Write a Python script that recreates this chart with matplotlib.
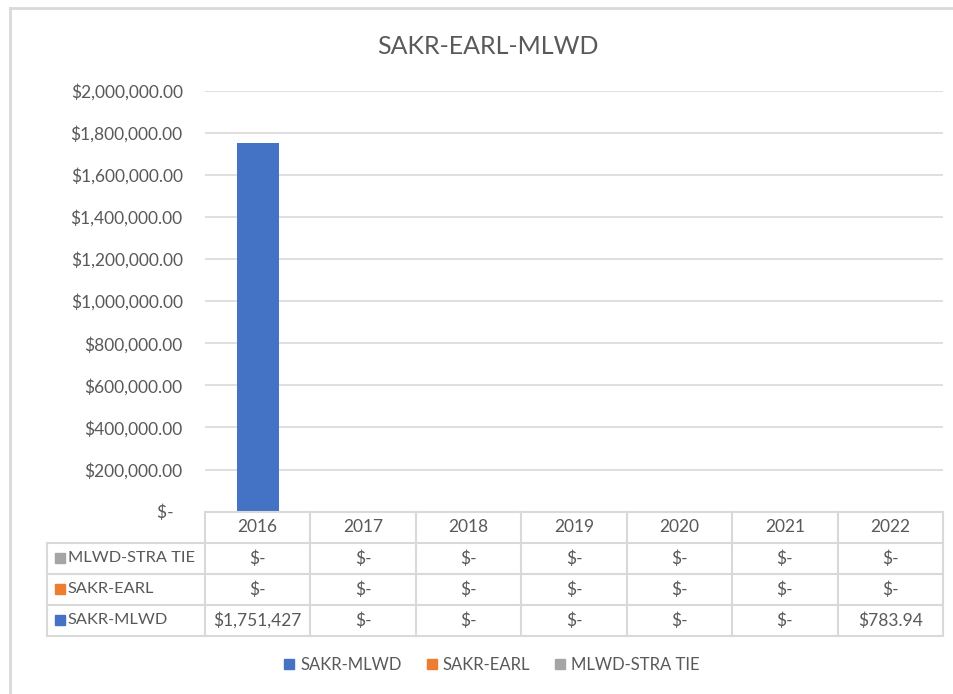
import matplotlib.pyplot as plt
import matplotlib.lines as mlines
from matplotlib.ticker import FuncFormatter

plt.rcParams['font.family'] = ['Lato', 'DejaVu Sans']

# data
years = ['2016', '2017', '2018', '2019', '2020', '2021', '2022']
series_names = ['SAKR-MLWD', 'SAKR-EARL', 'MLWD-STRA TIE']
sakr_mlwd = [1751427, 0, 0, 0, 0, 0, 783.94]
sakr_earl = [0, 0, 0, 0, 0, 0, 0]
mlwd_stra_tie = [0, 0, 0, 0, 0, 0, 0]
colors = ['#4472C4', '#ED7D31', '#A5A5A5']
yticks = [0, 200000, 400000, 600000, 800000, 1000000, 1200000,
          1400000, 1600000, 1800000, 2000000]

txt = '#595959'
grid = '#D9D9D9'
W, H = 954, 694

def money_tick(v, pos=None):
    if v == 0:
        return '$-  '
    return '${:,.2f}'.format(v)

def money_cell(v):
    if v == 0:
        return '$-'
    if v >= 100000:
        return '${:,.0f}'.format(v)
    return '${:,.2f}'.format(v)

fig = plt.figure(figsize=(W / 100, H / 100), dpi=100)

# outer chart border (top and left only visible)
fig.add_artist(mlines.Line2D([10 / W, 1], [1 - 8 / H, 1 - 8 / H], color=grid, lw=2))
fig.add_artist(mlines.Line2D([10 / W, 10 / W], [0, 1 - 8 / H], color=grid, lw=2))

x0, x1 = 205 / W, 943 / W
ax = fig.add_axes([x0, 1 - 511.6 / H, x1 - x0, (511.6 - 90.6) / H])
xs = list(range(len(years)))
data = [sakr_mlwd, sakr_earl, mlwd_stra_tie]
bottom = [0] * len(years)
for name, vals, c in zip(series_names, data, colors):
    ax.bar(xs, vals, width=0.4, bottom=bottom, color=c, label=name, zorder=3)
    bottom = [b + v for b, v in zip(bottom, vals)]

ax.set_xlim(-0.5, len(years) - 0.5)
ax.set_ylim(0, 2000000)
ax.set_yticks(yticks)
ax.yaxis.set_major_formatter(FuncFormatter(money_tick))
ax.tick_params(axis='y', length=0, pad=16, labelsize=12.5, labelcolor=txt)
ax.set_xticks([])
ax.grid(axis='y', color=grid, lw=1.2, zorder=0)
for s in ax.spines.values():
    s.set_visible(False)

fig.text(488 / W, 1 - 47 / H, 'SAKR-EARL-MLWD', ha='center', va='center',
         fontsize=18, color=txt)

# data table below the plot
tb = fig.add_axes([x0, 1 - 636 / H, x1 - x0, (636 - 511.6) / H])
tb.set_xlim(-0.5, len(years) - 0.5)
tb.set_ylim(0, 4)
tb.axis('off')
lw = 1.5
tb.plot([-0.5, len(years) - 0.5], [4, 4], color=grid, lw=lw, clip_on=False)
for yy in [0, 1, 2, 3]:
    tb.plot([-2, len(years) - 0.5], [yy, yy], color=grid, lw=lw, clip_on=False)
for k in range(len(years) + 1):
    tb.plot([k - 0.5, k - 0.5], [0, 4], color=grid, lw=lw, clip_on=False)
tb.plot([-2, -2], [0, 3], color=grid, lw=lw, clip_on=False)

for i, y in enumerate(years):
    tb.text(i, 3.5, y, ha='center', va='center', fontsize=12.5, color=txt)
for r, (name, vals, c) in enumerate(zip(series_names, data, colors)):
    yy = 0.5 + r
    tb.plot([-1.88], [yy], marker='s', ms=6.5, color=c, clip_on=False, ls='none')
    tb.text(-1.8, yy, name, ha='left', va='center', fontsize=11.8, color=txt)
    for i, v in enumerate(vals):
        tb.text(i, yy, money_cell(v), ha='center', va='center', fontsize=12.5, color=txt)

handles = [mlines.Line2D([], [], marker='s', ls='none', ms=7, color=c) for c in colors]
fig.legend(handles, series_names, loc='center', bbox_to_anchor=(492 / W, 1 - 665 / H),
           ncol=3, frameon=False, fontsize=12, labelcolor=txt,
           handletextpad=0.35, columnspacing=1.5, handlelength=0.6)

fig.savefig('out.png', dpi=100)
